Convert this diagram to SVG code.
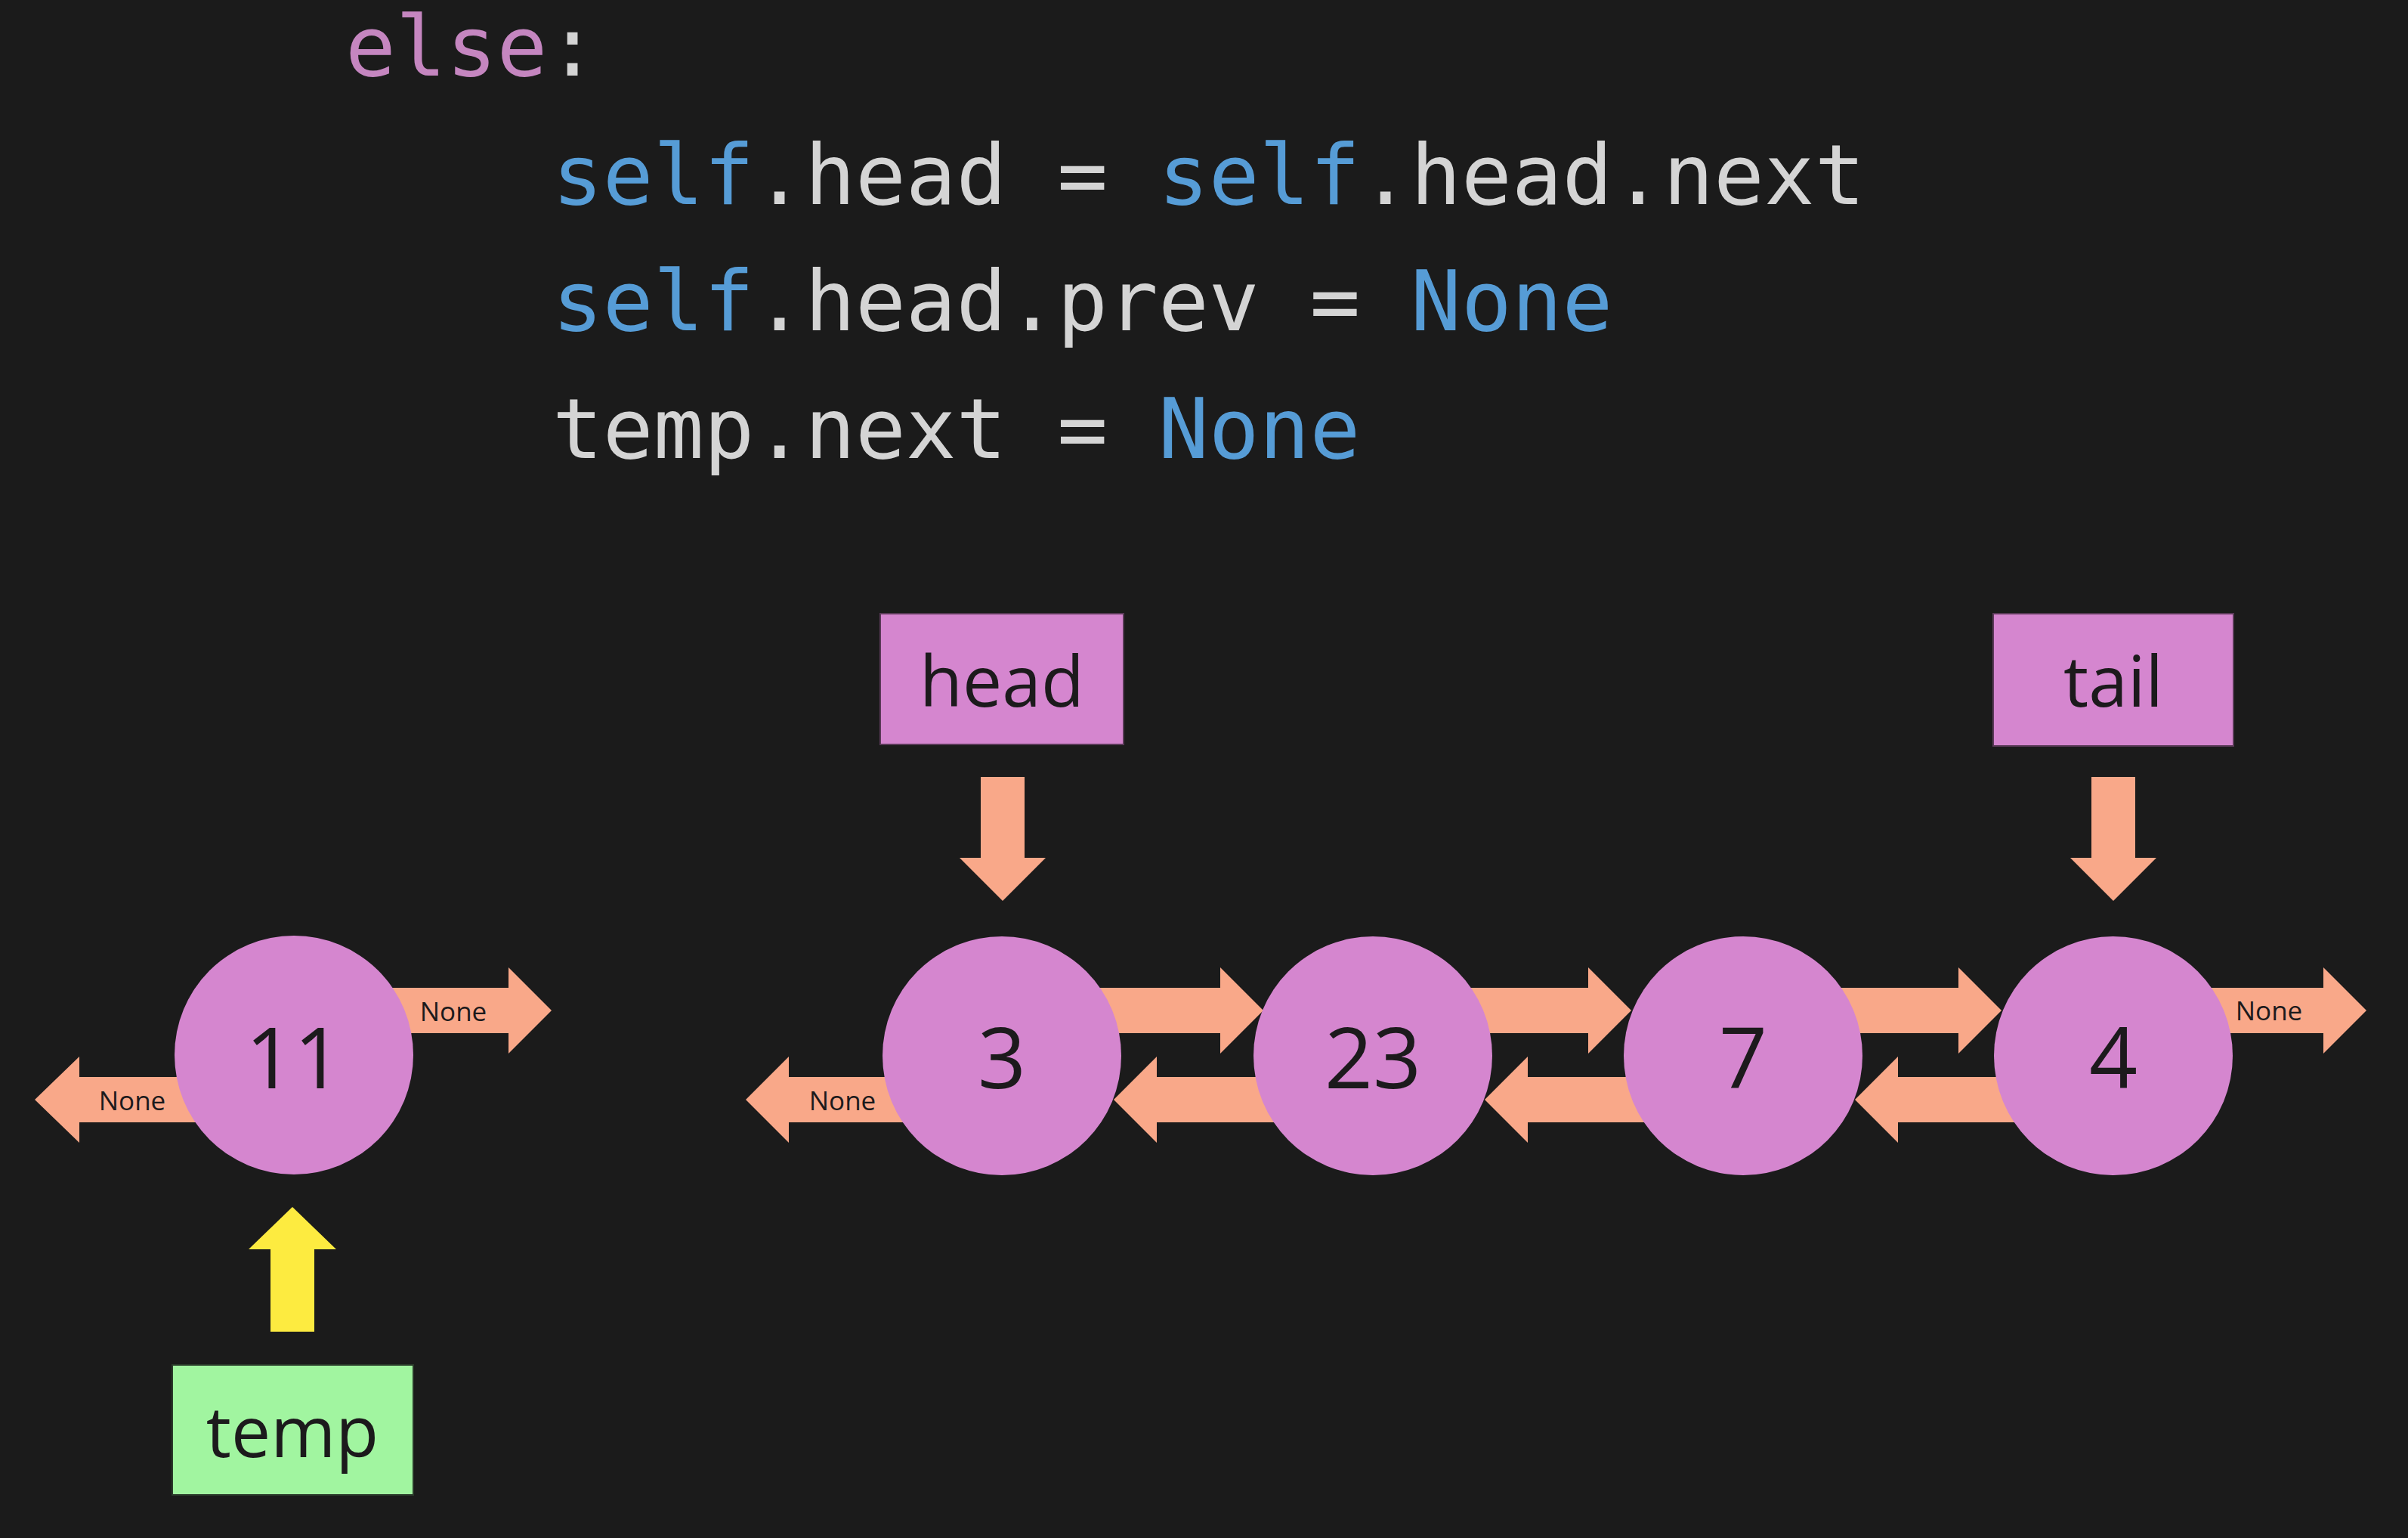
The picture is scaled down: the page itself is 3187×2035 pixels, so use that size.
<svg xmlns="http://www.w3.org/2000/svg" width="3187" height="2035" viewBox="0 0 3187 2035">
<style>
.code{font-family:"DejaVu Sans Mono","Liberation Mono",monospace;font-size:111px;fill:#d4d4d4}
.kw{fill:#c586c0}
.bl{fill:#569cd6}
.node{fill:#d586cf}
.num{font-family:"Open Sans","Liberation Sans",sans-serif;font-size:112px;fill:#1c1a1c;text-anchor:middle}
.lbl{font-family:"Open Sans","Liberation Sans",sans-serif;font-size:93px;fill:#1c1a1c;text-anchor:middle}
.none{font-family:"Open Sans","Liberation Sans",sans-serif;font-size:35px;fill:#1c1a1c;text-anchor:middle}
.arr{fill:#f9a889}
.box{fill:#d586cf;stroke:#5a3a58;stroke-width:2}
.tbox{fill:#a1f5a0;stroke:#2a3a2a;stroke-width:2}
</style>
<rect x="0" y="0" width="3187" height="2035" fill="#1b1b1b"/>
<g id="code">
<text class="code" x="457" y="100"><tspan class="kw">else</tspan>:</text>
<text class="code" x="731" y="270"><tspan class="bl">self</tspan>.head = <tspan class="bl">self</tspan>.head.next</text>
<text class="code" x="731" y="437"><tspan class="bl">self</tspan>.head.prev = <tspan class="bl">None</tspan></text>
<text class="code" x="731" y="606">temp.next = <tspan class="bl">None</tspan></text>
</g>
<g id="connectors">
<polygon class="arr" points="450,1307 673,1307 673,1280 730,1337 673,1394 673,1367 450,1367"/>
<polygon class="arr" points="1400,1307 1615,1307 1615,1280 1672,1337 1615,1394 1615,1367 1400,1367"/>
<polygon class="arr" points="1890,1307 2102,1307 2102,1280 2159,1337 2102,1394 2102,1367 1890,1367"/>
<polygon class="arr" points="2380,1307 2592,1307 2592,1280 2649,1337 2592,1394 2592,1367 2380,1367"/>
<polygon class="arr" points="2870,1307 3075,1307 3075,1280 3132,1337 3075,1394 3075,1367 2870,1367"/>
<polygon class="arr" points="330,1425 105,1425 105,1398 46,1455 105,1512 105,1485 330,1485"/>
<polygon class="arr" points="1250,1425 1044,1425 1044,1398 987,1455 1044,1512 1044,1485 1250,1485"/>
<polygon class="arr" points="1750,1425 1531,1425 1531,1398 1474,1455 1531,1512 1531,1485 1750,1485"/>
<polygon class="arr" points="2240,1425 2022,1425 2022,1398 1965,1455 2022,1512 2022,1485 2240,1485"/>
<polygon class="arr" points="2730,1425 2512,1425 2512,1398 2455,1455 2512,1512 2512,1485 2730,1485"/>
<polygon class="arr" points="1298,1028 1356,1028 1356,1135 1384,1135 1327,1192 1270,1135 1298,1135"/>
<polygon class="arr" points="2768,1028 2826,1028 2826,1135 2854,1135 2797,1192 2740,1135 2768,1135"/>
<polygon fill="#fdeb40" points="358,1762 416,1762 416,1653 445,1653 387,1597 329,1653 358,1653"/>
<text class="none" x="600" y="1351">None</text>
<text class="none" x="175" y="1469">None</text>
<text class="none" x="1115" y="1469">None</text>
<text class="none" x="3003" y="1350">None</text>
</g>
<g id="node-11">
<circle class="node" cx="389" cy="1396" r="158"/>
<text class="num" x="389" y="1440">11</text>
</g>
<g id="node-3">
<circle class="node" cx="1326" cy="1397" r="158"/>
<text class="num" x="1326" y="1440">3</text>
</g>
<g id="node-23">
<circle class="node" cx="1817" cy="1397" r="158"/>
<text class="num" x="1817" y="1440">23</text>
</g>
<g id="node-7">
<circle class="node" cx="2307" cy="1397" r="158"/>
<text class="num" x="2307" y="1440">7</text>
</g>
<g id="node-4">
<circle class="node" cx="2797" cy="1397" r="158"/>
<text class="num" x="2797" y="1440">4</text>
</g>
<g id="head">
<rect class="box" x="1165" y="812" width="322" height="173"/>
<text class="lbl" x="1326" y="935">head</text>
</g>
<g id="tail">
<rect class="box" x="2638" y="812" width="318" height="175"/>
<text class="lbl" x="2797" y="935">tail</text>
</g>
<g id="temp">
<rect class="tbox" x="228" y="1806" width="319" height="172"/>
<text class="lbl" x="387" y="1928">temp</text>
</g>
</svg>
